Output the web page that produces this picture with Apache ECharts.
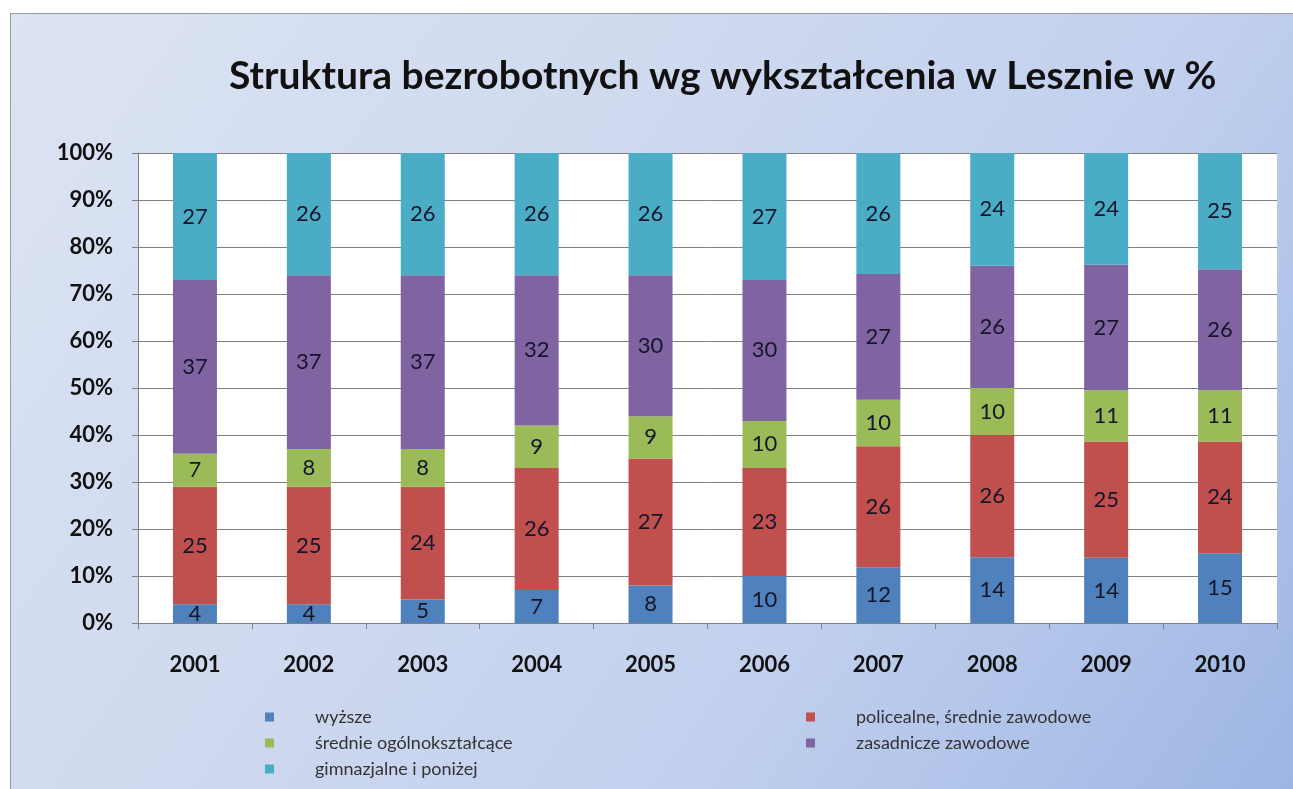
<!DOCTYPE html>
<html>
<head>
<meta charset="utf-8">
<script src="https://cdn.jsdelivr.net/npm/echarts@6/dist/echarts.min.js"></script>
<style>
  html, body { margin: 0; padding: 0; background: #fff; }
  #frame {
    position: absolute; left: 10px; top: 13px; width: 1300px; height: 800px;
    border: 1px solid #9a9a9a;
    background: linear-gradient(125deg, #dce4f3 0%, #d0daef 35%, #c2d0ee 65%, #9bb4e3 100%);
  }
  #chart { position: absolute; left: 0; top: 0; width: 1293px; height: 789px; }
</style>
</head>
<body>
<div id="frame"></div>
<div id="chart"></div>
<script>
// lata
const years = ['2001', '2002', '2003', '2004', '2005', '2006', '2007', '2008', '2009', '2010']

// udział w % wg wykształcenia (etykiety z wykresu)
const wyzsze = [4, 4, 5, 7, 8, 10, 12, 14, 14, 15]
const policealne = [25, 25, 24, 26, 27, 23, 26, 26, 25, 24]
const srednieOgolne = [7, 8, 8, 9, 9, 10, 10, 10, 11, 11]
const zasadnicze = [37, 37, 37, 32, 30, 30, 27, 26, 27, 26]
const gimnazjalne = [27, 26, 26, 26, 26, 27, 26, 24, 24, 25]

const seriesNames = [
    'wyższe',
    'policealne, średnie zawodowe',
    'średnie ogólnokształcące',
    'zasadnicze zawodowe',
    'gimnazjalne i poniżej'
]
const seriesData = [wyzsze, policealne, srednieOgolne, zasadnicze, gimnazjalne]
const colors = ['#4f81bd', '#c0504d', '#9bbb59', '#8064a2', '#4bacc6']

const yTicks = [0, 10, 20, 30, 40, 50, 60, 70, 80, 90, 100]

// wykres 100% - każdy rok sprowadzony do sumy 100
const totals = years.map((y, i) => seriesData.reduce((s, arr) => s + arr[i], 0))

const font = 'Lato, "Noto Sans", sans-serif'

const chart = echarts.init(document.getElementById('chart'))

const option = {
    backgroundColor: 'transparent',
    textStyle: { fontFamily: font },
    title: {
        text: 'Struktura bezrobotnych wg wykształcenia w Lesznie w %',
        left: 224,
        top: 52,
        textStyle: { fontFamily: font, fontSize: 39, fontWeight: 'bold', color: '#111' }
    },
    legend: [
        {
            orient: 'vertical',
            left: 260,
            top: 703,
            itemWidth: 9,
            itemHeight: 9,
            itemGap: 8,
            icon: 'rect',
            data: [seriesNames[0], seriesNames[2], seriesNames[4]],
            textStyle: { fontSize: 18, color: '#333', padding: [0, 0, 0, 36] }
        },
        {
            orient: 'vertical',
            left: 801,
            top: 703,
            itemWidth: 9,
            itemHeight: 9,
            itemGap: 8,
            icon: 'rect',
            data: [seriesNames[1], seriesNames[3]],
            textStyle: { fontSize: 18, color: '#333', padding: [0, 0, 0, 36] }
        }
    ],
    grid: {
        left: 138,
        right: 16,
        top: 153,
        bottom: 166,
        outerBoundsMode: 'none',
        containLabel: false,
        show: true,
        backgroundColor: '#fff',
        borderWidth: 0
    },
    xAxis: {
        type: 'category',
        data: years,
        axisLine: { lineStyle: { color: '#808080' } },
        axisTick: { show: true, length: 6, lineStyle: { color: '#808080' } },
        axisLabel: { fontSize: 22, color: '#111', margin: 31, fontWeight: 'bold' }
    },
    yAxis: {
        type: 'value',
        min: 0,
        max: 100,
        interval: 10,
        axisLine: { show: true, lineStyle: { color: '#808080' } },
        axisTick: { show: true, length: 6, lineStyle: { color: '#808080' } },
        splitLine: { lineStyle: { color: '#808080' } },
        axisLabel: {
            fontSize: 22,
            color: '#111',
            margin: 25,
            fontWeight: 'bold',
            formatter: v => (yTicks.includes(v) ? v + '%' : '')
        }
    },
    series: seriesNames.map((name, k) => ({
        name,
        type: 'bar',
        stack: 'total',
        barWidth: 44,
        itemStyle: { color: colors[k] },
        label: {
            show: true,
            position: 'inside',
            fontSize: 22,
            color: '#15152a',
            formatter: p => seriesData[k][p.dataIndex]
        },
        data: seriesData[k].map((v, i) => v / totals[i] * 100)
    }))
}

chart.setOption(option)
</script>
</body>
</html>
